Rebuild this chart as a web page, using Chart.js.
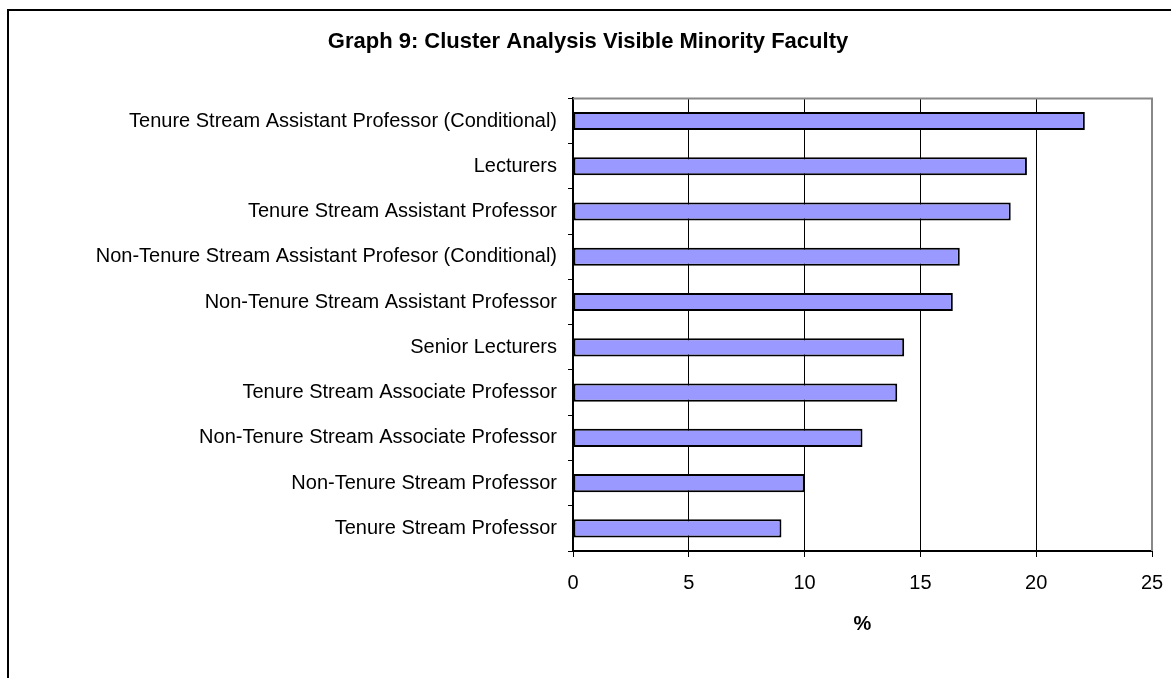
<!DOCTYPE html>
<html>
<head>
<meta charset="utf-8">
<script src="https://cdn.jsdelivr.net/npm/chart.js@4"></script>
<style>
  html, body { margin: 0; padding: 0; background: #fff; }
  #wrap { width: 1171px; height: 678px; position: relative; }
</style>
</head>
<body>
<div id="wrap"><canvas id="chart" width="1171" height="678"></canvas></div>
<script>
const categories = [
    'Tenure Stream Assistant Professor (Conditional)',
    'Lecturers',
    'Tenure Stream Assistant Professor',
    'Non-Tenure Stream Assistant Profesor (Conditional)',
    'Non-Tenure Stream Assistant Professor',
    'Senior Lecturers',
    'Tenure Stream Associate Professor',
    'Non-Tenure Stream Associate Professor',
    'Non-Tenure Stream Professor',
    'Tenure Stream Professor'
];
const percentValues = [22.1, 19.6, 18.9, 16.7, 16.4, 14.3, 14.0, 12.5, 10.0, 9.0];
const xTicks = [0, 5, 10, 15, 20, 25];

const FONT = '"Liberation Sans", Arial, sans-serif';

// outer frame (only top and left edges are visible in the original) + grey plot border
const frame = {
    id: 'frame',
    beforeDraw(chart) {
        const ctx = chart.ctx;
        ctx.save();
        ctx.fillStyle = '#fff';
        ctx.fillRect(0, 0, chart.width, chart.height);
        ctx.strokeStyle = '#000';
        ctx.lineWidth = 2;
        ctx.beginPath();
        ctx.moveTo(8, chart.height + 2);
        ctx.lineTo(8, 10);
        ctx.lineTo(chart.width + 2, 10);
        ctx.stroke();
        ctx.restore();
    },
    afterDatasetsDraw(chart) {
        const a = chart.chartArea;
        const ctx = chart.ctx;
        ctx.save();
        ctx.strokeStyle = '#888';
        ctx.lineWidth = 2;
        ctx.beginPath();
        ctx.moveTo(a.left, a.top);
        ctx.lineTo(a.right, a.top);
        ctx.lineTo(a.right, a.bottom);
        ctx.stroke();
        ctx.restore();
    }
};

new Chart(document.getElementById('chart'), {
    type: 'bar',
    data: {
        labels: categories,
        datasets: [{
            data: percentValues,
            backgroundColor: '#9999FF',
            borderColor: '#000',
            borderWidth: 2,
            borderSkipped: false,
            barPercentage: 0.4,
            categoryPercentage: 1.0
        }]
    },
    options: {
        indexAxis: 'y',
        responsive: false,
        animation: false,
        layout: { padding: { left: 24, right: 19, top: 0, bottom: 42 } },
        plugins: {
            legend: { display: false },
            tooltip: { enabled: false },
            title: {
                display: true,
                text: 'Graph 9: Cluster Analysis Visible Minority Faculty',
                color: '#000',
                font: { family: FONT, size: 22, weight: 'bold' },
                padding: { top: 29, bottom: 43 }
            }
        },
        scales: {
            x: {
                min: 0,
                max: 25,
                afterBuildTicks(scale) {
                    scale.ticks = xTicks.map(v => ({ value: v }));
                },
                afterFit(scale) {
                    scale.paddingLeft = 0;
                    scale.paddingRight = 0;
                },
                grid: {
                    color: '#000',
                    lineWidth: 1,
                    tickLength: 6,
                    drawTicks: true
                },
                border: { color: '#000', width: 2 },
                ticks: {
                    color: '#000',
                    font: { family: FONT, size: 20 },
                    padding: 14,
                    maxRotation: 0
                },
                title: {
                    display: true,
                    text: '%',
                    color: '#000',
                    font: { family: FONT, size: 20, weight: 'bold' },
                    padding: { top: 3, bottom: 0 }
                }
            },
            y: {
                afterFit(scale) {
                    scale.width = 549;
                },
                grid: {
                    drawOnChartArea: false,
                    drawTicks: true,
                    tickLength: 5,
                    color: '#000',
                    offset: true
                },
                border: { color: '#000', width: 2 },
                ticks: {
                    color: '#000',
                    font: { family: FONT, size: 20 },
                    padding: 11,
                    autoSkip: false
                }
            }
        }
    },
    plugins: [frame]
});
</script>
</body>
</html>
